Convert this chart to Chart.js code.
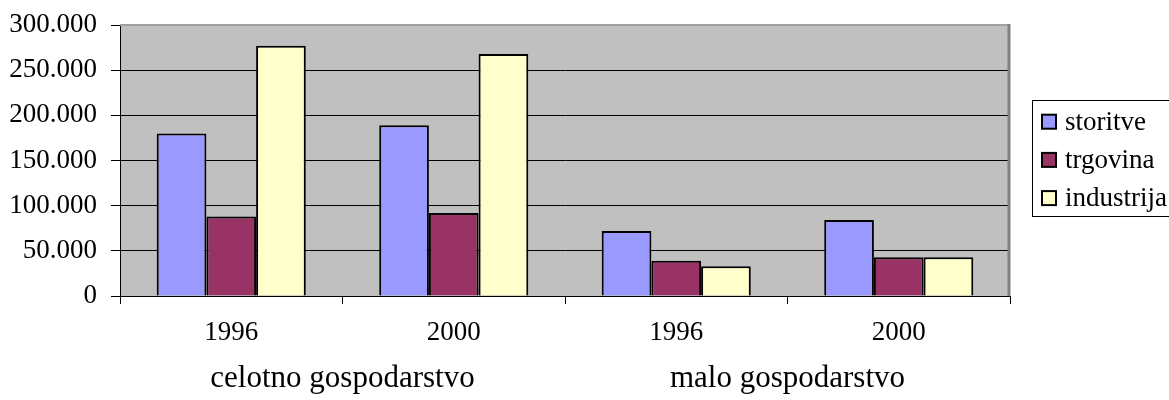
<!DOCTYPE html>
<html>
<head>
<meta charset="utf-8">
<script src="https://cdn.jsdelivr.net/npm/chart.js@4.4.1/dist/chart.umd.min.js"></script>
<style>
    html, body { margin: 0; padding: 0; background: #fff; overflow: hidden; }
</style>
</head>
<body>
<canvas id="chart" width="1169" height="400"></canvas>
<script>
// ── Data ──
const categories = ['1996', '2000', '1996', '2000'];
const groups = ['celotno gospodarstvo', 'malo gospodarstvo'];
const seriesNames = ['storitve', 'trgovina', 'industrija'];
const storitve = [180000, 189000, 72000, 84000];
const trgovina = [88000, 92000, 39000, 43000];
const industrija = [277000, 268000, 33000, 43000];
const yTicks = [0, 50000, 100000, 150000, 200000, 250000, 300000];

const colors = ['#9999FF', '#993366', '#FFFFCC'];
const FONT = '"Liberation Serif", "Times New Roman", serif';

function fmtThousands(v) {
    return String(v).replace(/\B(?=(\d{3})+(?!\d))/g, '.');
}

// ── Plot area background + gray frame (Excel style) ──
const plotFrame = {
    id: 'plotFrame',
    beforeDraw(chart) {
        const { ctx, chartArea: a } = chart;
        ctx.save();
        ctx.fillStyle = '#C0C0C0';
        ctx.fillRect(a.left, a.top, a.right - a.left, a.bottom - a.top);
        ctx.restore();
    },
    afterDraw(chart) {
        const { ctx, chartArea: a } = chart;
        ctx.save();
        ctx.strokeStyle = '#A0A0A0';
        ctx.lineWidth = 2;
        ctx.beginPath();
        ctx.moveTo(a.left, a.top);
        ctx.lineTo(a.right, a.top);
        ctx.stroke();
        ctx.strokeStyle = '#808080';
        ctx.lineWidth = 3;
        ctx.beginPath();
        ctx.moveTo(a.right - 1, a.top - 1);
        ctx.lineTo(a.right - 1, a.bottom);
        ctx.stroke();
        ctx.restore();
    }
};

// ── Legend box on the right, cut off by the canvas edge like the reference ──
const sideLegend = {
    id: 'sideLegend',
    afterDraw(chart) {
        const { ctx } = chart;
        const x0 = 1032, y0 = 100, rowH = 38.2, firstY = 121.7;
        ctx.save();
        ctx.fillStyle = '#fff';
        ctx.fillRect(x0, y0, 200, 116);
        ctx.strokeStyle = '#000';
        ctx.lineWidth = 1;
        ctx.strokeRect(x0 + 0.5, y0 + 0.5, 200, 116);
        ctx.font = `27px ${FONT}`;
        ctx.textBaseline = 'middle';
        chart.data.datasets.forEach((ds, i) => {
            const cy = firstY + i * rowH;
            ctx.fillStyle = ds.backgroundColor;
            ctx.fillRect(x0 + 10, cy - 7, 14, 14);
            ctx.lineWidth = 2;
            ctx.strokeRect(x0 + 10, cy - 7, 14, 14);
            ctx.fillStyle = '#000';
            ctx.fillText(ds.label, x0 + 33, cy + 1);
        });
        ctx.restore();
    }
};

const seriesData = [storitve, trgovina, industrija];

const chart = new Chart(document.getElementById('chart'), {
    type: 'bar',
    data: {
        labels: categories,
        datasets: seriesNames.map((name, i) => ({
            label: name,
            data: seriesData[i],
            backgroundColor: colors[i],
            borderColor: '#000',
            borderWidth: 2,
            categoryPercentage: 0.67,
            barPercentage: 1.0,
            xAxisID: 'x'
        }))
    },
    options: {
        responsive: false,
        animation: false,
        layout: { padding: { top: 25, right: 159, left: 0, bottom: 0 } },
        plugins: { legend: { display: false }, tooltip: { enabled: false } },
        scales: {
            x: {
                position: 'bottom',
                grid: { display: true, drawOnChartArea: false, drawTicks: true, tickLength: 8, color: '#000', offset: true },
                border: { display: true, color: '#000', width: 1 },
                ticks: { color: '#000', font: { family: FONT, size: 27 }, padding: 13, maxRotation: 0 },
                afterFit: (axis) => { axis.height = 50; }
            },
            x2: {
                type: 'category',
                position: 'bottom',
                labels: groups,
                offset: true,
                grid: { display: false },
                border: { display: false },
                ticks: { color: '#000', font: { family: FONT, size: 31 }, padding: 6, maxRotation: 0 },
                afterFit: (axis) => { axis.height = 54; }
            },
            y: {
                min: 0,
                max: 300000,
                afterBuildTicks: (axis) => { axis.ticks = yTicks.map(v => ({ value: v })); },
                grid: {
                    color: (c) => (c.tick && c.tick.value === 300000 ? 'rgba(0,0,0,0)' : '#000'),
                    tickColor: '#000',
                    lineWidth: 1,
                    tickLength: 9
                },
                border: { display: true, color: '#000', width: 1 },
                ticks: {
                    color: '#000',
                    font: { family: FONT, size: 27 },
                    padding: 14,
                    callback: (v) => fmtThousands(v)
                },
                afterFit: (axis) => {
                    axis.width = 120;
                    axis.paddingTop = 0;
                    axis.paddingBottom = 0;
                }
            }
        }
    },
    plugins: [plotFrame, sideLegend]
});
</script>
</body>
</html>
